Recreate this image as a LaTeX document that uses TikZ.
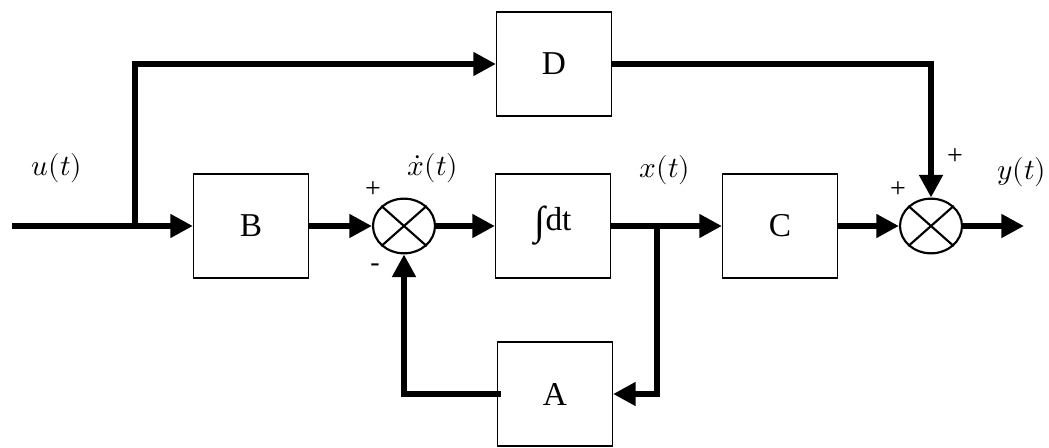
\documentclass[tikz,border=0pt]{standalone}
\usepackage{unicode-math}
\setmainfont{Liberation Serif}
\setmathfont{Latin Modern Math}
\usetikzlibrary{arrows.meta,shapes.geometric}
\begin{document}
\begin{tikzpicture}[x=0.75pt,y=-0.75pt,
  blk/.style={draw,line width=1.1pt,minimum width=86pt,minimum height=78pt,inner sep=0pt,font=\fontsize{25}{30}\selectfont},
  sumj/.style={draw,ellipse,line width=1.6pt,minimum width=46.5pt,minimum height=41pt,inner sep=0pt},
  sig/.style={line width=5.2pt,-{Triangle[length=17pt,width=17pt]}},
  lbl/.style={font=\fontsize{22}{26}\selectfont,inner sep=0pt},
  sgn/.style={font=\fontsize{21}{24}\selectfont,inner sep=0pt}]
\useasboundingbox (0,0) rectangle (1049,448);
\node[blk] (B) at (251,226) {B};
\node[blk] (D) at (554,64) {D};
\node[blk] (I) at (553,226) {\raisebox{-3pt}{\fontsize{30}{30}\selectfont ∫}dt};
\node[blk] (C) at (780,226) {C};
\node[blk] (A) at (555,394) {A};
\node[sumj] (s1) at (404,226) {};
\node[sumj] (s2) at (931,226) {};
\draw[line width=1.6pt] (s1.north west) -- (s1.south east) (s1.north east) -- (s1.south west);
\draw[line width=1.6pt] (s2.north west) -- (s2.south east) (s2.north east) -- (s2.south west);
\coordinate (in) at (12,226);
\coordinate (j1) at (135,226);
\coordinate (j2) at (657,226);
\coordinate (out) at (1024,226);
\draw[sig] (in) -- (B.west);
\draw[sig] (j1) |- (D.west);
\draw[sig] (B.east) -- (s1.west);
\draw[sig] (s1.east) -- (I.west);
\draw[sig] (I.east) -- (C.west);
\draw[sig] (C.east) -- (s2.west);
\draw[sig] (s2.east) -- (out);
\draw[sig] (D.east) -| (s2.north);
\draw[sig] (j2) |- (A.east);
\draw[sig] ([xshift=3pt]A.west) -| (s1.south);
\node[lbl] (lu) at (57,168) {$u(t)$};
\node[lbl] (lxd) at (433,168) {$\dot{x}(t)$};
\node[lbl] (lx) at (665,170) {$x(t)$};
\node[lbl] (ly) at (1022,172) {$y(t)$};
\node[sgn] (p1) at (373,190) {+};
\node[sgn] (m1) at (375,268) {-};
\node[sgn] (p2) at (898,190) {+};
\node[sgn] (p3) at (955,157) {+};
\end{tikzpicture}
\end{document}
